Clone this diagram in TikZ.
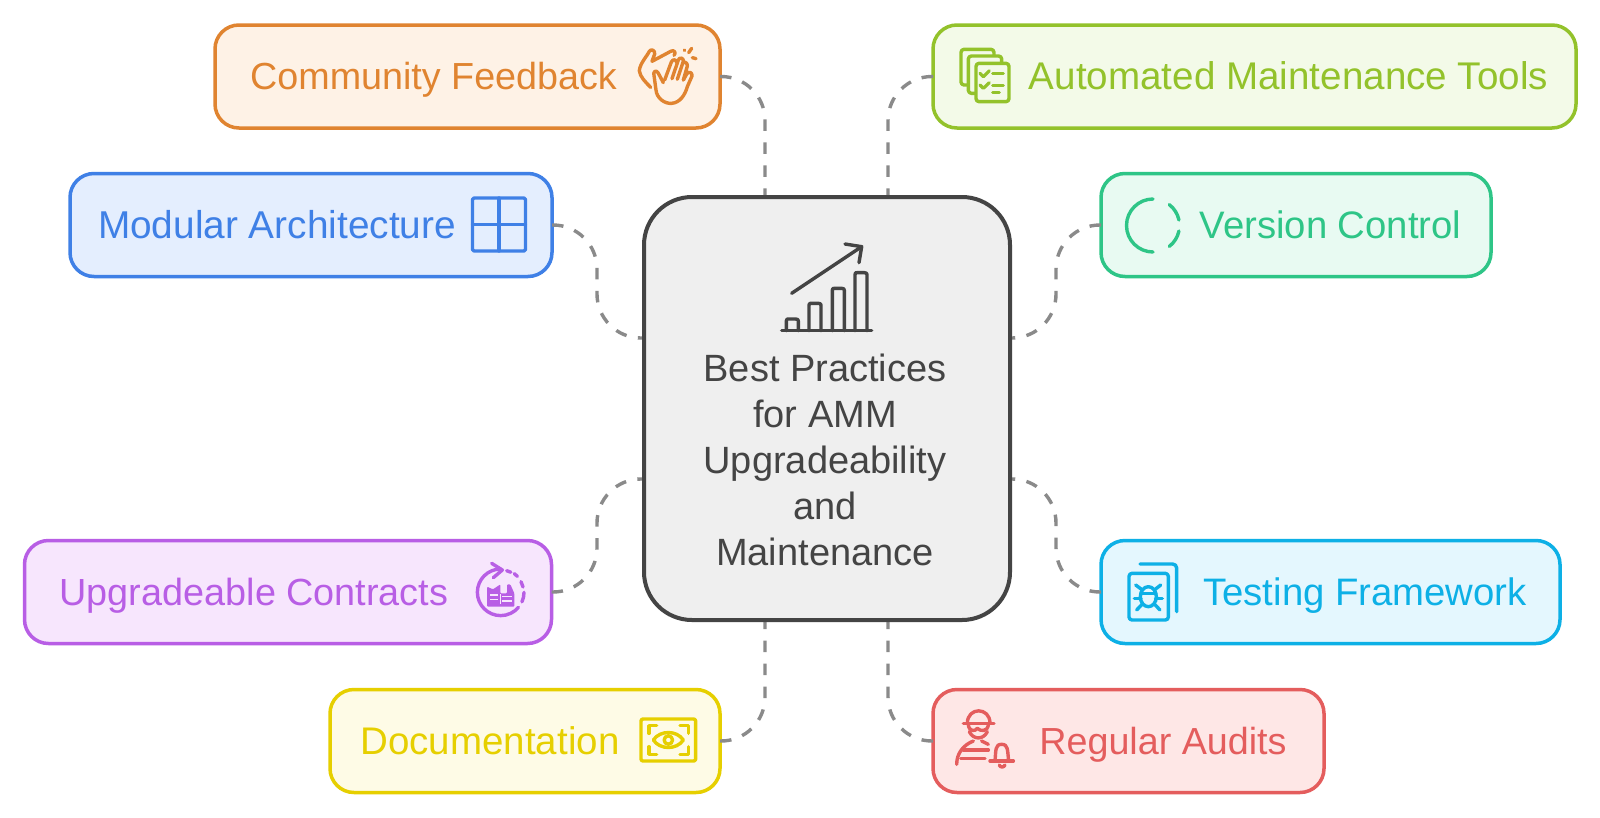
\documentclass[tikz,border=0pt]{standalone}
\usepackage{fontspec}
\setmainfont{Liberation Sans}
\usetikzlibrary{calc}
\definecolor{inkS}{HTML}{444444}
\definecolor{lnc}{HTML}{8A8A8A}
\definecolor{ctrf}{HTML}{EFEFEF}
\definecolor{orS}{HTML}{E08430}\definecolor{orF}{HTML}{FEF2E6}
\definecolor{blS}{HTML}{3F80E6}\definecolor{blF}{HTML}{E4EEFE}
\definecolor{puS}{HTML}{B85EE5}\definecolor{puF}{HTML}{F7E6FD}
\definecolor{yeS}{HTML}{E6CF00}\definecolor{yeF}{HTML}{FEFBE6}
\definecolor{grS}{HTML}{93C22B}\definecolor{grF}{HTML}{F3FAE8}
\definecolor{teS}{HTML}{2EC587}\definecolor{teF}{HTML}{E8FAF2}
\definecolor{cyS}{HTML}{0DB0E6}\definecolor{cyF}{HTML}{E4F7FE}
\definecolor{reS}{HTML}{E45D5D}\definecolor{reF}{HTML}{FEE7E6}
\newcommand{\fsz}[1]{\fontsize{#1}{46}\selectfont}
\tikzset{
 boxn/.style={draw=#1S,fill=#1F,line width=3.5pt,rounded corners=24pt,inner sep=0pt,outer sep=0pt,minimum height=103pt},
 lab/.style={text=#1S,inner sep=0pt,anchor=base},
 conn/.style={draw=lnc,line width=3.4pt,dash pattern=on 11.5pt off 11.5pt,rounded corners=44pt},
 ic/.style={draw=#1S,line width=3.4pt,line cap=round,line join=round},
 zoomed/.style={x=0.33333pt,y=-0.33333pt},
}
\begin{document}
\begin{tikzpicture}[x=1pt,y=-1pt]
\useasboundingbox (0,0) rectangle (1600,817);
\fill[white] (0,0) rectangle (1600,817);
% anchor coordinates on the central box
\coordinate (cT1) at (765,197);
\coordinate (cT2) at (888,197);
\coordinate (cL1) at (644,338);
\coordinate (cL2) at (644,479);
\coordinate (cR1) at (1010,338);
\coordinate (cR2) at (1010,479);
\coordinate (cB1) at (765,620);
\coordinate (cB2) at (888,620);
\coordinate (kL1) at (597,338);
\coordinate (kL2) at (597,479);
\coordinate (kR1) at (1056,338);
\coordinate (kR2) at (1056,479);
% boxes
\node[boxn=or,minimum width=505pt] (comm) at (467.5,76.5) {};
\node[boxn=bl,minimum width=482pt] (modu) at (311,225) {};
\node[boxn=pu,minimum width=527pt] (upgr) at (288,592) {};
\node[boxn=ye,minimum width=390pt] (docu) at (525,741) {};
\node[boxn=gr,minimum width=643pt] (auto) at (1254.5,76.5) {};
\node[boxn=te,minimum width=390pt] (vers) at (1296,225) {};
\node[boxn=cy,minimum width=459pt] (test) at (1330.5,592) {};
\node[boxn=re,minimum width=391pt] (regu) at (1128.5,741) {};
% connectors
\draw[conn] (comm.east) -| (cT1);
\draw[conn] (auto.west) -| (cT2);
\draw[conn] (modu.east) -| (kL1) -- (cL1);
\draw[conn] (upgr.east) -| (kL2) -- (cL2);
\draw[conn] (vers.west) -| (kR1) -- (cR1);
\draw[conn] (test.west) -| (kR2) -- (cR2);
\draw[conn] (docu.east) -| (cB1);
\draw[conn] (regu.west) -| (cB2);
% central box
\node[draw=inkS,fill=ctrf,line width=4pt,rounded corners=48pt,minimum width=366pt,minimum height=423pt,inner sep=0pt,outer sep=0pt] (ctr) at (827,408.5) {};
% labels
\node[lab=or,font=\fsz{37.7}] (tcomm) at (433.5,89.8) {Community Feedback};
\node[lab=bl,font=\fsz{38.8}] (tmodu) at (277,238.3) {Modular Architecture};
\node[lab=pu,font=\fsz{37.8}] (tupgr) at (254,605.3) {Upgradeable Contracts};
\node[lab=ye,font=\fsz{38.5}] (tdocu) at (490,754.3) {Documentation};
\node[lab=gr,font=\fsz{38.6}] (tauto) at (1288.5,89.8) {Automated Maintenance Tools};
\node[lab=te,font=\fsz{38.3}] (tvers) at (1330.5,238.3) {Version Control};
\node[lab=cy,font=\fsz{38.3}] (ttest) at (1365,605.3) {Testing Framework};
\node[lab=re,font=\fsz{37.7}] (tregu) at (1163,754.3) {Regular Audits};
\node[text=inkS,inner sep=0pt,align=center,font=\fsz{38}] (tctr) at (825,460) {Best Practices\\for AMM\\Upgradeability\\and\\Maintenance};
% centre icon
\begin{scope}[shift={(740,220)},zoomed]
\draw[ic=ink] (125,332) -- (395,332);
\draw[ic=ink] (139,332) -- (139,303) .. controls (139,297) and (141,297) .. (145,297) -- (167,297) .. controls (173,297) and (175,299) .. (175,303) -- (175,332);
\draw[ic=ink] (207,332) -- (207,256) .. controls (207,250) and (209,250) .. (213,250) -- (235,250) .. controls (241,250) and (243,252) .. (243,256) -- (243,332);
\draw[ic=ink] (277,332) -- (277,211) .. controls (277,205) and (279,205) .. (283,205) -- (305,205) .. controls (311,205) and (313,207) .. (313,211) -- (313,332);
\draw[ic=ink] (345,332) -- (345,164) .. controls (345,158) and (347,158) .. (351,158) -- (373,158) .. controls (379,158) and (381,160) .. (381,164) -- (381,332);
\draw[ic=ink] (155,220) -- (365,80);
\draw[ic=ink] (315,72) -- (365,80) -- (357,128);
\end{scope}
% clap
\begin{scope}[shift={(630,40)},zoomed]
\draw[ic=or] (62,142) .. controls (45,125) and (30,110) .. (28,92) .. controls (30,70) and (50,50) .. (58,34) .. controls (62,26) and (76,30) .. (74,42) -- (66,64) -- (122,34) .. controls (132,28) and (140,38) .. (132,46);
\draw[ic=or] (100,128) -- (84,98) .. controls (78,88) and (68,96) .. (72,106) -- (78,150) .. controls (80,175) and (105,192) .. (125,190) .. controls (150,188) and (165,165) .. (172,140) -- (186,108) .. controls (188,98) and (176,92) .. (170,102) -- (160,120);
\draw[ic=or] (104,120) -- (124,66) .. controls (128,56) and (140,58) .. (140,68);
\draw[ic=or] (126,116) -- (145,60) .. controls (148,50) and (162,54) .. (160,64) -- (142,118);
\draw[ic=or] (160,120) -- (172,78) .. controls (174,68) and (160,62) .. (158,70);
\draw[ic=or] (163,30) -- (164,31);
\draw[ic=or] (185,25) -- (176,38);
\draw[ic=or] (187,53) -- (198,56);
\end{scope}
% grid
\draw[ic=bl,rounded corners=1.5pt] (472.5,198) rectangle (525.5,251);
\draw[ic=bl] (499,198) -- (499,251);
\draw[ic=bl] (472.5,224.5) -- (525.5,224.5);
% purple icon
\begin{scope}[shift={(465,555)},zoomed]
\draw[ic=pu] (107,42) arc[start angle=90,end angle=320,radius=23.3pt];
\draw[ic=pu] (80,25) -- (112,45) -- (85,68);
\draw[ic=pu] (125,47) arc[start angle=75,end angle=64,radius=23.3pt];
\draw[ic=pu] (148,56) arc[start angle=54,end angle=44,radius=23.3pt];
\draw[ic=pu] (168,80) arc[start angle=28,end angle=14,radius=23.3pt];
\draw[ic=pu] (177,112) arc[start angle=0,end angle=-24,radius=23.3pt];
\fill[puS,rounded corners=1pt] (66,155) -- (66,95) -- (84,103) -- (106,88) -- (106,115) -- (126,115) -- (126,88) -- (136,88) -- (148,115) -- (148,155) -- cycle;
\draw[puF,line width=1.3pt] (76,120) -- (100,120) (76,134) -- (100,134);
\draw[puF,line width=1.3pt] (112,124) -- (140,124) (112,138) -- (140,138);
\draw[puF,line width=1.3pt] (106,118) -- (106,148);
\end{scope}
% eye
\begin{scope}[shift={(635,705)},zoomed]
\draw[ic=ye,rounded corners=2pt] (18,42) rectangle (182,168);
\draw[ic=ye] (42,85) -- (42,62) -- (65,62);
\draw[ic=ye] (135,62) -- (160,62) -- (160,85);
\draw[ic=ye] (42,125) -- (42,148) -- (65,148);
\draw[ic=ye] (135,148) -- (160,148) -- (160,125);
\draw[ic=ye] (55,105) .. controls (75,75) and (125,75) .. (145,105) .. controls (125,135) and (75,135) .. (55,105) -- cycle;
\draw[ic=ye] (100,105) circle[radius=4.2pt];
\end{scope}
% checklist
\begin{scope}[shift={(950,40)},zoomed]
\draw[ic=gr,fill=grF,rounded corners=3pt] (33,28) rectangle (132,135);
\draw[ic=gr,fill=grF,rounded corners=3pt] (55,48) rectangle (155,160);
\draw[ic=gr,fill=grF,rounded corners=3pt] (78,70) rectangle (177,185);
\draw[ic=gr,line width=3.2pt] (90,100) -- (100,110) -- (118,92);
\draw[ic=gr,line width=3.2pt] (128,100) -- (160,100);
\draw[ic=gr,line width=3.2pt] (90,135) -- (100,145) -- (118,128);
\draw[ic=gr,line width=3.2pt] (128,136) -- (160,136);
\draw[ic=gr,line width=3.2pt] (128,158) -- (148,158);
\end{scope}
% version control ring
\draw[ic=te] (1153,199) arc[start angle=90,end angle=270,radius=26.5pt];
\draw[ic=te] ($(1153,225.5)+(52:26.5pt)$) arc[start angle=52,end angle=12,radius=26.5pt];
\draw[ic=te] ($(1153,225.5)+(-12:26.5pt)$) arc[start angle=-12,end angle=-52,radius=26.5pt];
% bug
\begin{scope}[shift={(1115,555)},zoomed]
\draw[ic=cy,rounded corners=4pt] (75,27) -- (185,27) -- (185,170);
\draw[ic=cy,rounded corners=3pt] (42,55) rectangle (160,195);
\draw[ic=cy] (100,125) ellipse[x radius=8pt,y radius=10pt];
\draw[ic=cy] (78,115) -- (122,115);
\draw[ic=cy] (62,90) -- (82,105) (137,90) -- (118,105);
\draw[ic=cy] (58,130) -- (78,130) (142,130) -- (122,130);
\draw[ic=cy] (65,165) -- (82,147) (135,165) -- (118,147);
\end{scope}
% person
\begin{scope}[shift={(950,705)},zoomed]
\draw[ic=re] (52,55) .. controls (52,5) and (120,5) .. (120,55);
\draw[ic=re] (40,55) -- (132,55);
\draw[ic=re] (55,60) .. controls (58,80) and (75,80) .. (82,70) .. controls (92,80) and (112,80) .. (115,60);
\draw[ic=re] (58,80) .. controls (70,105) and (100,105) .. (112,80);
\draw[ic=re] (20,178) .. controls (20,145) and (40,120) .. (70,108) (95,108) -- (115,118);
\draw[ic=re] (40,135) -- (115,135);
\draw[ic=re] (32,160) -- (105,160);
\draw[ic=re] (120,168) -- (190,168);
\draw[ic=re] (135,168) .. controls (138,135) and (135,118) .. (155,118) .. controls (175,118) and (172,135) .. (176,168);
\draw[ic=re] (148,180) .. controls (150,188) and (162,188) .. (165,180);
\end{scope}
\end{tikzpicture}
\end{document}
